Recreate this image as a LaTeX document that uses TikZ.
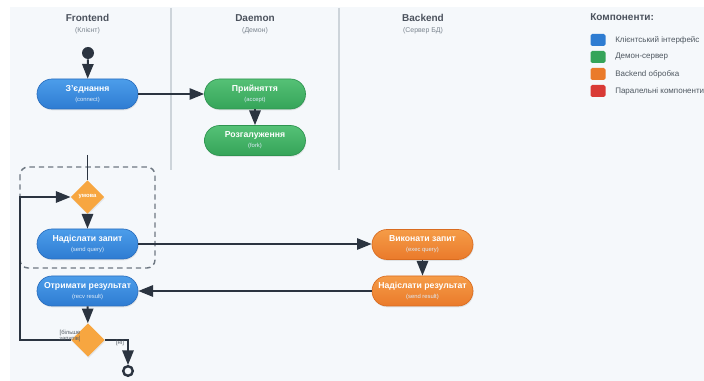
\documentclass[tikz,border=0pt]{standalone}
\usepackage{fontspec}
\setmainfont{Liberation Sans}
\usetikzlibrary{shapes.geometric,arrows.meta,shadows}

\definecolor{pagebg}{HTML}{F5F8FB}
\definecolor{ink}{HTML}{2B3440}
\definecolor{mutedtext}{HTML}{7A848E}
\definecolor{legendtext}{HTML}{4F5861}
\definecolor{divider}{HTML}{CDD4DA}
\definecolor{boxdash}{HTML}{6E7882}
\definecolor{blueTop}{HTML}{4C9DEA}
\definecolor{blueBot}{HTML}{2E7CD2}
\definecolor{blueEdge}{HTML}{2A6EBE}
\definecolor{greenTop}{HTML}{55C176}
\definecolor{greenBot}{HTML}{35A459}
\definecolor{greenEdge}{HTML}{2E9450}
\definecolor{orangeTop}{HTML}{F59C48}
\definecolor{orangeBot}{HTML}{EA7A2A}
\definecolor{orangeEdge}{HTML}{D96C20}
\definecolor{decisionfill}{HTML}{F7A640}
\definecolor{legendred}{HTML}{D93A36}
\definecolor{subwhite}{HTML}{DDEBF8}

% two-line action label: bold name over a small code name
\newcommand{\acttext}[2]{{\bfseries\fontsize{6.5}{7}\selectfont #1}\\{\color{subwhite}\fontsize{4.4}{5}\selectfont #2}}

\tikzset{
  action/.style={rectangle, rounded corners=11.25pt, minimum width=75.75pt,
    minimum height=22.5pt, inner sep=0pt, align=center, text=white,
    font=\fontsize{4.4}{7.4}\selectfont, line width=0.5pt,
    drop shadow={opacity=0.18, shadow xshift=0.5pt, shadow yshift=-1pt}},
  client/.style={action, draw=blueEdge, top color=blueTop, bottom color=blueBot},
  daemon/.style={action, draw=greenEdge, top color=greenTop, bottom color=greenBot},
  backend/.style={action, draw=orangeEdge, top color=orangeTop, bottom color=orangeBot},
  decision/.style={diamond, fill=decisionfill, minimum width=25pt, minimum height=25pt,
    inner sep=0pt, drop shadow={opacity=0.15, shadow xshift=0.5pt, shadow yshift=-1pt}},
  flow/.style={draw=ink, line width=1.4pt},
  arr/.style={flow, -{Triangle[length=11pt,width=8.5pt]}},
  lanetitle/.style={font=\bfseries\fontsize{7.5}{9}\selectfont, text=ink!85},
  lanesub/.style={font=\fontsize{5.2}{6}\selectfont, text=mutedtext},
  guard/.style={font=\fontsize{4.4}{5}\selectfont, text=ink!80, align=center, inner sep=0pt},
  swatch/.style={rectangle, rounded corners=1.2pt, minimum width=11.25pt, minimum height=9pt, inner sep=0pt},
  legendlabel/.style={font=\fontsize{6}{7}\selectfont, text=legendtext, anchor=west, inner sep=0pt}
}

\begin{document}
\begin{tikzpicture}[x=0.75pt,y=-0.75pt]
  % page and panel
  \useasboundingbox (0,0) rectangle (704,381);
  \clip (0,0) rectangle (704,381);
  \fill[white] (0,0) rectangle (704,381);
  \fill[pagebg] (10,7) rectangle (704,381);

  % swimlane separators
  \draw[divider, line width=1.1pt] (171,8) -- (171,170);
  \draw[divider, line width=1.1pt] (339,8) -- (339,170);

  % lane headings
  \node[lanetitle] (hfront) at (87.5,18) {Frontend};
  \node[lanesub]   (sfront) at (87.5,31) {(Клієнт)};
  \node[lanetitle] (hdaemon) at (255,18) {Daemon};
  \node[lanesub]   (sdaemon) at (255,31) {(Демон)};
  \node[lanetitle] (hback) at (423,18) {Backend};
  \node[lanesub]   (sback) at (423,31) {(Сервер БД)};

  % legend
  \node[lanetitle, anchor=west, inner sep=0pt] (legtitle) at (590,17) {Компоненти:};
  \node[swatch, fill=blueBot]    (lg1) at (598,40) {};
  \node[swatch, fill=greenBot]   (lg2) at (598,57) {};
  \node[swatch, fill=orangeBot]  (lg3) at (598,74) {};
  \node[swatch, fill=legendred]  (lg4) at (598,91) {};
  \node[legendlabel] (lt1) at (615,40) {Клієнтський інтерфейс};
  \node[legendlabel] (lt2) at (615,57) {Демон-сервер};
  \node[legendlabel] (lt3) at (615,74) {Backend обробка};
  \node[legendlabel] (lt4) at (615,91) {Паралельні компоненти};

  % dashed region around the request loop
  \draw[boxdash, dashed, line width=1.1pt, dash pattern=on 4pt off 3pt, rounded corners=6pt]
    (20,167) rectangle (155,268);

  % activity nodes
  \node[circle, fill=ink, minimum size=9pt, inner sep=0pt] (start) at (88,53) {};
  \node[client]  (conn) at (87.5,94)  {\acttext{З'єднання}{(connect)}};
  \node[daemon]  (acc)  at (255,94)   {\acttext{Прийняття}{(accept)}};
  \node[daemon]  (fork) at (255,140.5){\acttext{Розгалуження}{(fork)}};
  \node[decision](cond) at (87.5,197) {};
  \node[guard, text=white, font=\bfseries\fontsize{4.4}{5}\selectfont] (condtxt) at (cond) {умова};
  \node[client]  (send) at (87.5,244) {\acttext{Надіслати запит}{(send query)}};
  \node[backend] (exec) at (422.5,244.5) {\acttext{Виконати запит}{(exec query)}};
  \node[backend] (sres) at (422.5,291) {\acttext{Надіслати результат}{(send result)}};
  \node[client]  (recv) at (87.5,291) {\acttext{Отримати результат}{(recv result)}};
  \node[decision](more) at (88,340) {};
  \node[circle, draw=ink, line width=1.8pt, minimum size=7.2pt, inner sep=0pt] (finish) at (128,371) {};

  \coordinate (branchin) at (87.5,155);
  \coordinate (loopcorner) at (20,340);

  % connectors
  \draw[arr] (start) -- (conn);
  \draw[arr] (conn) -- (acc);
  \draw[arr] (acc) -- (fork);
  \draw[flow] (branchin) -- (cond.north);
  \draw[arr] (cond) -- (send);
  \draw[arr] (send) -- (send.east -| exec.west);
  \draw[arr] (exec) -- (sres);
  \draw[arr] (sres.west) -- (sres.west -| recv.east);
  \draw[arr] (recv) -- (more);
  \draw[arr] (more.west) -- (loopcorner) |- (cond.west);
  \draw[arr] (more.east) -| (finish.north);

  % guard labels
  \node[guard] (gmore) at (70,336) {[більше\\запитів]};
  \node[guard] (gno) at (120,343) {[ні]};
\end{tikzpicture}
\end{document}
